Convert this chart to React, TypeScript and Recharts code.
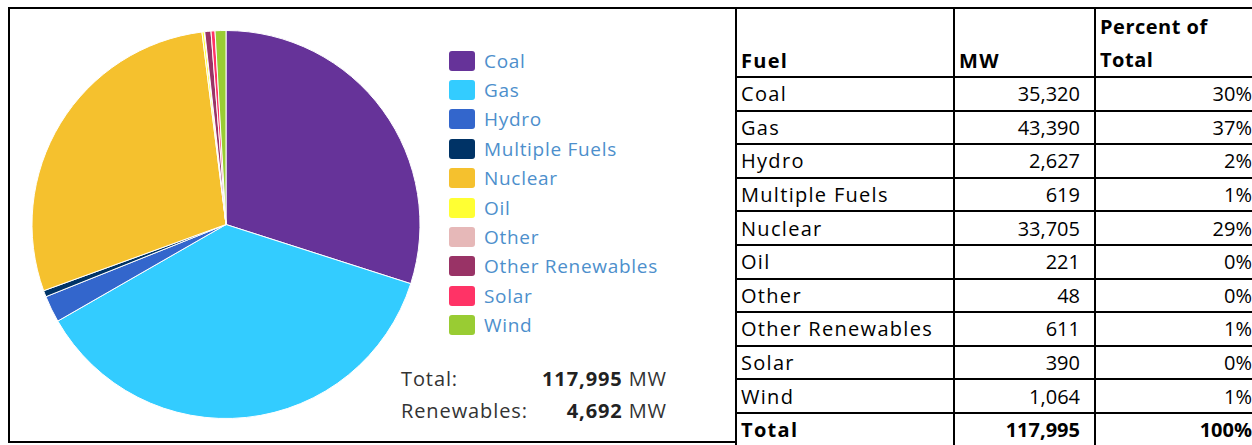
import { PieChart, Pie, Cell, Legend } from 'recharts'

const FUELS = [
  'Coal',
  'Gas',
  'Hydro',
  'Multiple Fuels',
  'Nuclear',
  'Oil',
  'Other',
  'Other Renewables',
  'Solar',
  'Wind',
]
const MW = [35320, 43390, 2627, 619, 33705, 221, 48, 611, 390, 1064]
const PERCENT = ['30%', '37%', '2%', '1%', '29%', '0%', '0%', '1%', '0%', '1%']
const COLORS = [
  '#663399',
  '#33ccff',
  '#3366cc',
  '#003366',
  '#f5c12e',
  '#ffff33',
  '#e6b8b8',
  '#993366',
  '#ff3366',
  '#99cc33',
]
const TOTAL_MW = '117,995'
const RENEWABLES_MW = '4,692'

const pieData = FUELS.map((fuel, i) => ({ fuel, mw: MW[i] }))

const LEFT_FONT = '"Open Sans", sans-serif'
const TABLE_FONT = '"Open Sans", sans-serif'

// legend: rounded colour chip + light blue label, ~29px per row
function FuelLegend() {
  return (
    <div style={{ fontFamily: LEFT_FONT }}>
      {FUELS.map((f, i) => (
        <div key={f} style={{ display: 'flex', alignItems: 'center', height: 29.4 }}>
          <span
            style={{
              display: 'inline-block',
              width: 26,
              height: 20,
              borderRadius: 3,
              background: COLORS[i],
              marginRight: 9,
            }}
          />
          <span style={{ fontSize: 19, letterSpacing: 0.7, color: '#4d8fcc', whiteSpace: 'nowrap' }}>{f}</span>
        </div>
      ))}
    </div>
  )
}

const cellBase = {
  borderRight: '2px solid #000',
  borderBottom: '2px solid #000',
  boxSizing: 'border-box' as const,
  padding: '0 4px',
  display: 'flex',
  alignItems: 'center',
  whiteSpace: 'nowrap' as const,
}
const textCell = { ...cellBase, letterSpacing: 1.3 }
const numCell = { ...cellBase, justifyContent: 'flex-end', paddingRight: 14 }

function FuelTable() {
  const rows = FUELS.map((f, i) => [f, MW[i].toLocaleString('en-US'), PERCENT[i]])
  return (
    <div
      style={{
        position: 'absolute',
        left: 735,
        top: 7,
        display: 'grid',
        gridTemplateColumns: '218px 141px 172px',
        gridTemplateRows: '69px repeat(11, 33.6px)',
        borderTop: '2px solid #000',
        borderLeft: '2px solid #000',
        fontFamily: TABLE_FONT,
        fontSize: 20,
        color: '#000',
      }}
    >
      <div style={{ ...textCell, alignItems: 'flex-end', fontWeight: 700, paddingBottom: 2 }}>Fuel</div>
      <div style={{ ...textCell, alignItems: 'flex-end', fontWeight: 700, paddingBottom: 2 }}>MW</div>
      <div style={{ ...textCell, alignItems: 'flex-end', fontWeight: 700, lineHeight: '33px', letterSpacing: 0.5 }}>
        <span>
          Percent of
          <br />
          Total
        </span>
      </div>
      {rows.map((r) => [
        <div key={r[0] + 'a'} style={textCell}>{r[0]}</div>,
        <div key={r[0] + 'b'} style={numCell}>{r[1]}</div>,
        <div key={r[0] + 'c'} style={numCell}>{r[2]}</div>,
      ])}
      <div style={{ ...textCell, fontWeight: 700 }}>Total</div>
      <div style={{ ...numCell, fontWeight: 700 }}>{TOTAL_MW}</div>
      <div style={{ ...numCell, fontWeight: 700 }}>100%</div>
    </div>
  )
}

export default function App() {
  return (
    <div
      style={{
        position: 'absolute',
        left: 0,
        top: 0,
        width: 1252,
        height: 445,
        overflow: 'hidden',
        background: '#fff',
      }}
    >
      <div
        style={{
          position: 'absolute',
          left: 8,
          top: 7,
          width: 729,
          height: 436,
          border: '2px solid #000',
          boxSizing: 'border-box',
        }}
      >
        <PieChart width={725} height={432} margin={{ top: 0, right: 0, bottom: 0, left: 0 }}>
          <Pie
            data={pieData}
            dataKey="mw"
            nameKey="fuel"
            cx={216}
            cy={215.5}
            outerRadius={194}
            startAngle={90}
            endAngle={-270}
            stroke="#fff"
            strokeWidth={1}
            isAnimationActive={false}
          >
            {pieData.map((d, i) => (
              <Cell key={d.fuel} fill={COLORS[i]} />
            ))}
          </Pie>
          <Legend
            layout="vertical"
            align="right"
            verticalAlign="top"
            content={() => <FuelLegend />}
            wrapperStyle={{ left: 439, top: 37, right: 'auto', width: 270 }}
          />
        </PieChart>
        <div
          style={{
            position: 'absolute',
            left: 391,
            top: 354,
            width: 266,
            fontFamily: LEFT_FONT,
            fontSize: 20,
            letterSpacing: 0.9,
            color: '#333',
            lineHeight: '32px',
          }}
        >
          <div style={{ display: 'flex', justifyContent: 'space-between' }}>
            <span>Total:</span>
            <span>
              <b style={{ color: '#222' }}>{TOTAL_MW}</b> MW
            </span>
          </div>
          <div style={{ display: 'flex', justifyContent: 'space-between' }}>
            <span>Renewables:</span>
            <span>
              <b style={{ color: '#222' }}>{RENEWABLES_MW}</b> MW
            </span>
          </div>
        </div>
      </div>
      <FuelTable />
    </div>
  )
}
